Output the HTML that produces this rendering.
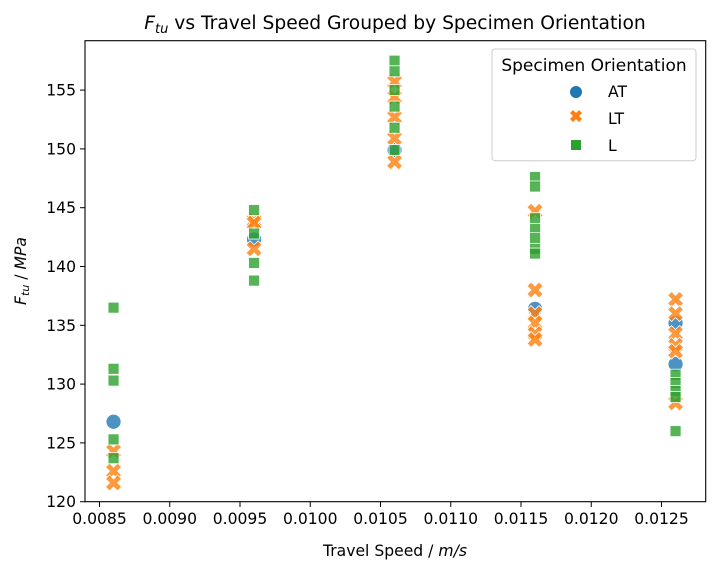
<!DOCTYPE html>
<html><head><meta charset="utf-8">
<style>
body{margin:0;background:#fff;}
svg{display:block;font-family:"DejaVu Sans","Liberation Sans",sans-serif;}
</style></head>
<body>
<svg id="chart" width="717" height="574" viewBox="0 0 717 574">
<text x="395" y="29" font-size="18.7" text-anchor="middle"><tspan font-style="italic">F</tspan><tspan font-style="italic" font-size="13" dy="4">tu</tspan><tspan dy="-4"> vs Travel Speed Grouped by Specimen Orientation</tspan></text>
<g id="grid"></g>
<g id="marks"></g>
<rect x="85" y="40.7" width="620.7" height="461" fill="none" stroke="#000" stroke-width="1.1"/>
<g id="xticks"></g><g id="yticks"></g>
<text x="395" y="556" font-size="15.6" text-anchor="middle">Travel Speed / <tspan font-style="italic">m/s</tspan></text>
<text transform="translate(26,271) rotate(-90)" font-size="15.6" text-anchor="middle"><tspan font-style="italic">F</tspan><tspan font-style="italic" font-size="11" dy="3">tu</tspan><tspan dy="-3"> / </tspan><tspan font-style="italic">MPa</tspan></text>
<g>
<rect x="492" y="49" width="204" height="111.7" rx="3" fill="#fff" fill-opacity="0.8" stroke="#ccc"/>
<text x="594" y="71" font-size="17" text-anchor="middle">Specimen Orientation</text>
<g><circle cx="576" cy="92" r="6" fill="#1f77b4"/><text x="608" y="97" font-size="15.6">AT</text></g>
<g><path d="M570,113 l3,-3 l3,3 l3,-3 l3,3 l-3,3 l3,3 l-3,3 l-3,-3 l-3,3 l-3,-3 l3,-3z" fill="#ff7f0e"/><text x="608" y="124" font-size="15.6">LT</text></g>
<g><rect x="571" y="140" width="10" height="10" fill="#2ca02c"/><text x="608" y="151" font-size="15.6">L</text></g>
</g>
</svg>
<script>
const xTicks=[0.0085,0.0090,0.0095,0.0100,0.0105,0.0110,0.0115,0.0120,0.0125];
const yTicks=[120,125,130,135,140,145,150,155];
const atX=[0.0086,0.0096,0.0106,0.0116,0.0126,0.0126];
const atY=[126.8,142.3,149.9,136.4,135.2,131.7];
const ltX=[0.0086,0.0086,0.0086,0.0096,0.0096,0.0096,0.0106,0.0106,0.0106,0.0106,0.0106,0.0116,0.0116,0.0116,0.0116,0.0116,0.0116,0.0126,0.0126,0.0126,0.0126,0.0126,0.0126];
const ltY=[124.3,122.6,121.6,143.9,143.7,141.5,155.7,154.4,152.7,150.9,148.9,144.7,138,136,135.2,134.3,133.8,137.2,136,134.3,133.3,132.8,128.4];
const lX=[0.0086,0.0086,0.0086,0.0086,0.0086,0.0096,0.0096,0.0096,0.0096,0.0106,0.0106,0.0106,0.0106,0.0106,0.0106,0.0116,0.0116,0.0116,0.0116,0.0116,0.0116,0.0116,0.0126,0.0126,0.0126,0.0126,0.0126];
const lY=[136.5,131.3,130.3,125.3,123.7,144.8,142.8,140.3,138.8,157.5,156.6,155,153.6,151.8,149.9,147.6,146.8,144.1,143.2,142.4,141.5,141.1,130.8,130.1,129.4,128.9,126];
const NS='http://www.w3.org/2000/svg';
const sx=v=>99.5+(v-0.0085)/0.0005*70.25;
const sy=v=>501.7-(v-120)*11.76;
function mk(tag,attrs,parent){const e=document.createElementNS(NS,tag);for(const k in attrs)e.setAttribute(k,attrs[k]);parent.appendChild(e);return e;}
const xt=document.getElementById('xticks'),yt=document.getElementById('yticks'),marks=document.getElementById('marks');
xTicks.forEach(v=>{const x=sx(v);
 const l=mk('line',{x1:x,x2:x,y1:501.7,y2:507,stroke:'#000'},xt);
 
 
 const t=mk('text',{x:x,y:524,'font-size':15.6,'text-anchor':'middle'},xt);t.textContent=v.toFixed(4);
 
 });
yTicks.forEach(v=>{const y=sy(v);
 const l=mk('line',{x1:80,x2:85,y1:y,y2:y,stroke:'#000'},yt);
 
 
 const t=mk('text',{x:76,y:y+5.5,'font-size':15.6,'text-anchor':'end'},yt);t.textContent=v;
 
 });
atX.forEach((v,i)=>{const c=mk('circle',{cx:sx(v),cy:sy(atY[i]),r:7.5,fill:'#1f77b4','fill-opacity':0.8,stroke:'#fff','stroke-width':0.8},marks);
 
 });
ltX.forEach((v,i)=>{const x=sx(v),y=sy(ltY[i]);
 const d=`M${x-8},${y-4} l4,-4 l4,4 l4,-4 l4,4 l-4,4 l4,4 l-4,4 l-4,-4 l-4,4 l-4,-4 l4,-4z`;
 const p=mk('path',{d:d,fill:'#ff7f0e','fill-opacity':0.8,stroke:'#fff','stroke-width':0.8},marks);
 
 });
lX.forEach((v,i)=>{const r=mk('rect',{x:sx(v)-5.5,y:sy(lY[i])-5.5,width:11,height:11,fill:'#2ca02c','fill-opacity':0.8,stroke:'#fff','stroke-width':0.8},marks);
 
 });
</script>
</body></html>
